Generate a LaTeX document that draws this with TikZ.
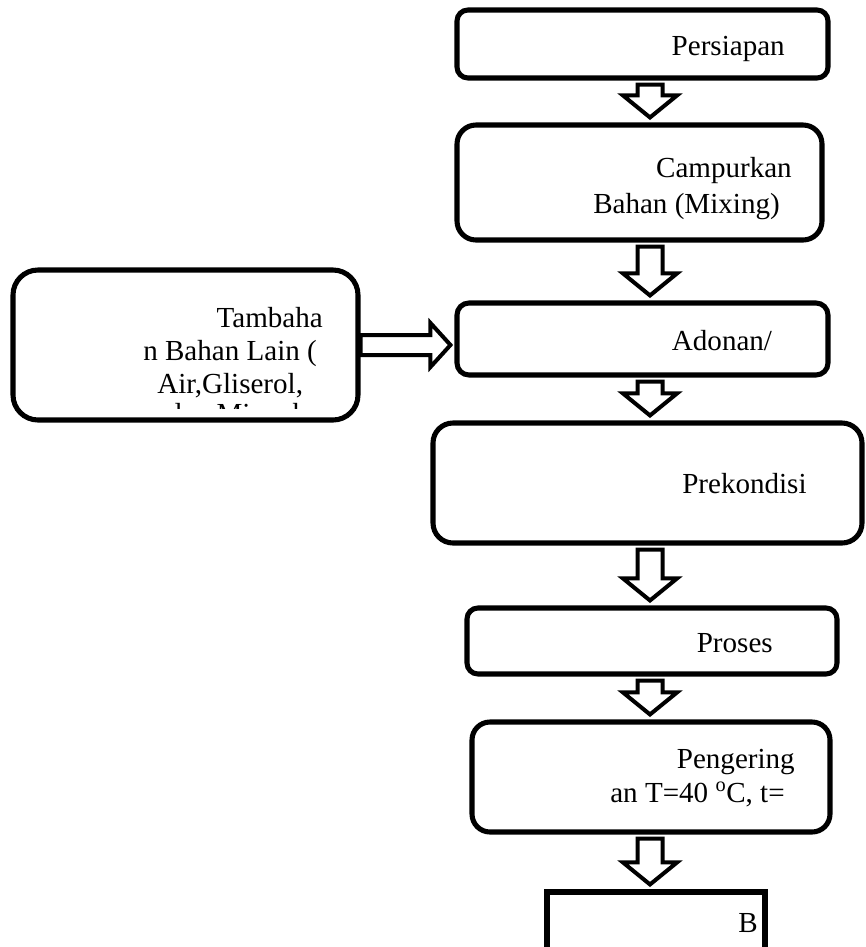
\documentclass[tikz,border=0pt]{standalone}
\usepackage{fontspec}
\setmainfont{Liberation Serif}
\usetikzlibrary{calc}
\newcommand{\downblock}[2]{%
\draw[blockarrow] ($(#1.south -| axis)+(-12.5,4)$) -- ($(#1.south -| axis)+(12.5,4)$) -- ($(#2.north -| axis)+(12.5,-27)$) -- ($(#2.north -| axis)+(27,-27)$) -- ($(#2.north -| axis)+(0,-5)$) -- ($(#2.north -| axis)+(-27,-27)$) -- ($(#2.north -| axis)+(-12.5,-27)$) -- cycle;}
\begin{document}
\begin{tikzpicture}[x=0.75pt,y=-0.75pt,
  stepbox/.style={draw=black,line width=3.8pt,rounded corners=#1*0.75pt,inner sep=0pt},
  plainbox/.style={draw=black,line width=3.8pt,inner sep=0pt},
  boxsize/.style 2 args={minimum width=#1*0.75pt,minimum height=#2*0.75pt},
  blockarrow/.style={draw=black,fill=white,line width=3pt,line join=miter},
  lbl/.style={inner sep=0pt,font=\fontsize{21.8pt}{26pt}\selectfont}]
\clip (0,0) rectangle (865,947);
\coordinate (axis) at (650,0);
\node[stepbox=11,boxsize={371}{68}] (persiapan) at (642.5,44) {};
\node[stepbox=19,boxsize={365}{115}] (campur) at (639.5,182.5) {};
\node[stepbox=12,boxsize={371}{72}] (adonan) at (642.5,339) {};
\node[stepbox=25,boxsize={345}{150}] (tambahan) at (185.5,345) {};
\node[stepbox=20,boxsize={429}{120}] (prekondisi) at (647.5,483) {};
\node[stepbox=11,boxsize={370}{66}] (proses) at (652,641) {};
\node[stepbox=18,boxsize={358}{110}] (pengering) at (651,777) {};
\node[plainbox,boxsize={218}{130}] (hasil) at (656,957) {};
\node[lbl,anchor=base east] (tPersiapan) at (785,55) {Persiapan};
\node[lbl,anchor=base east] (tCampur) at (792,177) {Campurkan};
\node[lbl,anchor=base east] (tBahan) at (780,213) {Bahan (Mixing)};
\node[lbl,anchor=base] (tAdonan) at (722,350) {Adonan/};
\node[lbl,anchor=base east] (tTambah) at (323,327) {Tambaha};
\node[lbl,anchor=base west] (tLain) at (143,360) {n Bahan Lain (};
\node[lbl,anchor=base west] (tAir) at (157,393) {Air,Gliserol,};
\begin{scope}
\clip (13,270) rectangle (358,408);
\node[lbl,anchor=base west] (tMinyak) at (167,423) {dan Minyak};
\end{scope}
\node[lbl,anchor=base west] (tPrekon) at (682,493) {Prekondisi};
\node[lbl,anchor=base east] (tProses) at (773,652) {Proses};
\node[lbl,anchor=base east] (tPenger) at (795,768) {Pengering};
\node[lbl,anchor=base east] (tSuhu) at (785,802) {an T=40 \textsuperscript{o}C, t=};
\node[lbl,anchor=base east] (tHasil) at (758,932) {B};
\downblock{persiapan}{campur}
\downblock{campur}{adonan}
\downblock{adonan}{prekondisi}
\downblock{prekondisi}{proses}
\downblock{proses}{pengering}
\downblock{pengering}{hasil}
\draw[blockarrow] ($(tambahan.east)+(0,-10)$) -- ($(adonan.west |- tambahan.east)+(-24,-10)$) -- ($(adonan.west |- tambahan.east)+(-24,-22)$) -- ($(adonan.west |- tambahan.east)+(-4,0)$) -- ($(adonan.west |- tambahan.east)+(-24,22)$) -- ($(adonan.west |- tambahan.east)+(-24,10)$) -- ($(tambahan.east)+(0,10)$) -- cycle;
\end{tikzpicture}
\end{document}
